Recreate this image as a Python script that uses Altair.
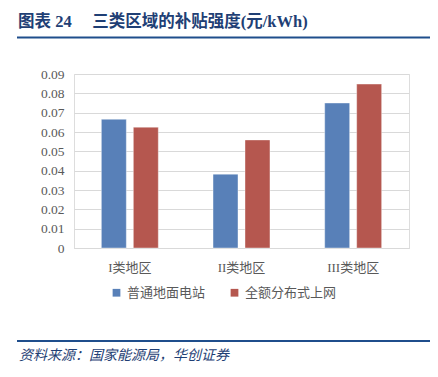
import altair as alt
import pandas as pd

categories = ["I类地区", "II类地区", "III类地区"]
series = ["普通地面电站", "全额分布式上网"]
ground_station = [0.0666, 0.0382, 0.0750]
distributed = [0.0625, 0.0559, 0.0848]
y_ticks = [0, 0.01, 0.02, 0.03, 0.04, 0.05, 0.06, 0.07, 0.08, 0.09]
colors = ["#5880B8", "#B5574F"]

rows = []
for c, a, b in zip(categories, ground_station, distributed):
    rows.append({"cat": c, "series": series[0], "v": a})
    rows.append({"cat": c, "series": series[1], "v": b})
df = pd.DataFrame(rows)

W, H = 335, 174
PL, PT = 74, 74

bars = alt.Chart(df).mark_bar(stroke="#FFFFFF", strokeOpacity=0.5, strokeWidth=0.8).encode(
    x=alt.X("cat:N", sort=categories,
            scale=alt.Scale(paddingInner=0.49, paddingOuter=0.245),
            axis=alt.Axis(title=None, labelAngle=0, domain=True, domainColor="#D9D9D9",
                          ticks=False, labelFont="Liberation Serif, Noto Sans CJK SC",
                          labelFontSize=13, labelColor="#595959", labelPadding=13)),
    xOffset=alt.XOffset("series:N", sort=series, scale=alt.Scale(paddingInner=0.219)),
    y=alt.Y("v:Q", scale=alt.Scale(domain=[0, 0.09], nice=False),
            axis=alt.Axis(title=None, values=y_ticks, format="~g", domain=False, ticks=False,
                          gridColor="#D9D9D9", gridWidth=1.2,
                          labelFont="Liberation Serif", labelFontSize=13.5,
                          labelColor="#595959", labelPadding=10)),
    color=alt.Color("series:N", sort=series, scale=alt.Scale(domain=series, range=colors),
                    legend=alt.Legend(title=None, orient="none", direction="horizontal",
                                      legendX=36, legendY=212, symbolType="square",
                                      symbolSize=60, symbolStrokeWidth=0,
                                      labelFont="Noto Sans CJK SC", labelFontSize=13,
                                      labelColor="#595959", columnPadding=22,
                                      symbolOffset=0, labelOffset=4)),
)

title = alt.Chart(pd.DataFrame({"t": ["图表 24　 三类区域的补贴强度(元/kWh)"]})).mark_text(
    align="left", baseline="alphabetic", font="Liberation Serif, Noto Sans CJK SC",
    fontSize=16.5, fontWeight="bold", color="#1F3F75"
).encode(text="t:N", x=alt.value(18 - PL), y=alt.value(27 - PT))

top_rule = alt.Chart(pd.DataFrame({"a": [0]})).mark_rule(color="#1F4E8C", strokeWidth=2).encode(
    x=alt.value(17 - PL), x2=alt.value(430 - PL), y=alt.value(37.5 - PT))
bot_rule = alt.Chart(pd.DataFrame({"a": [0]})).mark_rule(color="#1F4E8C", strokeWidth=2).encode(
    x=alt.value(17 - PL), x2=alt.value(430 - PL), y=alt.value(341 - PT))

source = alt.Chart(pd.DataFrame({"t": ["资料来源：国家能源局，华创证券"]})).mark_text(
    align="left", baseline="alphabetic", font="Noto Sans CJK SC", fontSize=14,
    fontStyle="italic", color="#1F3F75"
).encode(text="t:N", x=alt.value(19 - PL), y=alt.value(360 - PT))

chart = alt.layer(bars, title, top_rule, bot_rule, source).properties(
    width=W, height=H,
    autosize=alt.AutoSizeParams(type="none"),
    padding={"left": PL, "top": PT, "right": 438 - PL - W, "bottom": 377 - PT - H},
).configure_view(stroke=None).configure(background="white")

chart.save("out.html", embed_options={"renderer": "svg", "actions": False})
